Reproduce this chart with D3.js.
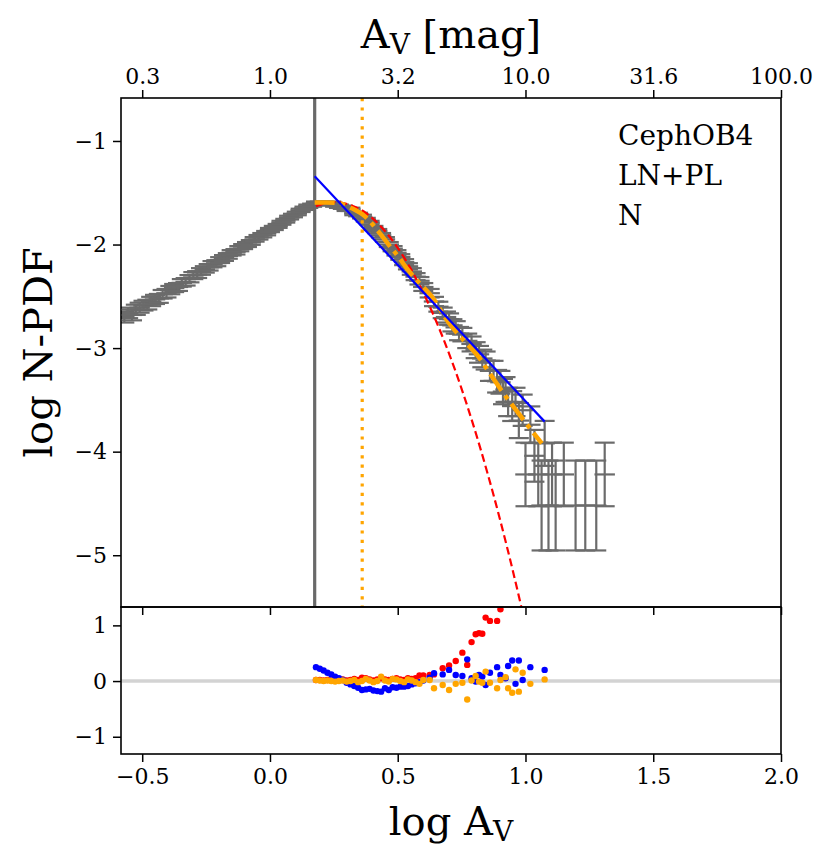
<!DOCTYPE html>
<html>
<head>
<meta charset="utf-8">
<script src="https://cdn.jsdelivr.net/npm/d3@7"></script>
<style>
  body { margin: 0; background: #fff; }
  svg { display: block; }
  text { font-family: "DejaVu Serif", serif; }
</style>
</head>
<body>
<svg id="chart" width="830" height="864"></svg>
<script>
// binned N-PDF (log A_V, log N-PDF, error in dex)
const pdfX = [
  -0.57, -0.555, -0.54, -0.525, -0.51, -0.495, -0.48, -0.465, -0.45, -0.435,
  -0.42, -0.405, -0.39, -0.375, -0.36, -0.345, -0.33, -0.315, -0.30, -0.285,
  -0.27, -0.255, -0.24, -0.225, -0.21, -0.195, -0.18, -0.165, -0.15, -0.135,
  -0.12, -0.105, -0.09, -0.075, -0.06, -0.045, -0.03, -0.015, 0.00, 0.015,
  0.03, 0.045, 0.06, 0.075, 0.09, 0.105, 0.12, 0.135, 0.15, 0.165,
  0.18, 0.195, 0.21, 0.225, 0.24, 0.255, 0.27, 0.285, 0.30, 0.315,
  0.33, 0.345, 0.36, 0.375, 0.39, 0.405, 0.42, 0.435, 0.45, 0.465,
  0.48, 0.495, 0.51, 0.525, 0.54, 0.555, 0.57, 0.585, 0.60,
  0.625, 0.642, 0.659, 0.676, 0.689, 0.701, 0.714, 0.727, 0.74, 0.753,
  0.772, 0.789, 0.805, 0.818, 0.831, 0.844, 0.861, 0.875, 0.889, 0.902,
  0.912, 0.922, 0.932, 0.948, 0.961, 0.974, 0.989, 1.00, 1.019, 1.035,
  1.05, 1.063, 1.075, 1.09, 1.104, 1.118, 1.15, 1.196, 1.234, 1.277, 1.31
];
const pdfY = [
  -2.70, -2.66, -2.68, -2.63, -2.61, -2.59, -2.58, -2.55, -2.53, -2.52,
  -2.48, -2.47, -2.44, -2.42, -2.41, -2.37, -2.36, -2.33, -2.30, -2.29,
  -2.26, -2.24, -2.22, -2.19, -2.18, -2.15, -2.13, -2.11, -2.08, -2.07,
  -2.04, -2.02, -2.00, -1.98, -1.95, -1.93, -1.91, -1.89, -1.86, -1.84,
  -1.82, -1.79, -1.77, -1.74, -1.72, -1.70, -1.67, -1.65, -1.63, -1.62,
  -1.60, -1.60, -1.60, -1.61, -1.60, -1.62, -1.63, -1.64, -1.66, -1.66,
  -1.70, -1.71, -1.73, -1.76, -1.79, -1.84, -1.87, -1.91, -1.95, -2.00,
  -2.04, -2.08, -2.12, -2.17, -2.21, -2.26, -2.31, -2.35, -2.41,
  -2.47, -2.55, -2.60, -2.66, -2.70, -2.72, -2.78, -2.80, -2.86, -2.87,
  -2.93, -2.96, -3.02, -3.06, -3.10, -3.12, -3.22, -3.22, -3.32, -3.33,
  -3.42, -3.40, -3.52, -3.56, -3.52, -3.70, -3.60, -4.22, -3.74, -4.04,
  -4.22, -4.52, -3.92, -4.52, -4.22, -4.52, -4.22, -4.52, -4.52, -4.52, -4.22
];
const pdfErr = [
  0.053, 0.051, 0.052, 0.049, 0.048, 0.047, 0.047, 0.045, 0.044, 0.043,
  0.041, 0.041, 0.040, 0.039, 0.038, 0.036, 0.036, 0.035, 0.034, 0.033,
  0.032, 0.031, 0.031, 0.030, 0.029, 0.028, 0.028, 0.027, 0.026, 0.026,
  0.025, 0.024, 0.024, 0.023, 0.022, 0.022, 0.021, 0.021, 0.020, 0.020,
  0.019, 0.019, 0.018, 0.018, 0.017, 0.017, 0.016, 0.016, 0.016, 0.015,
  0.015, 0.015, 0.015, 0.015, 0.015, 0.015, 0.016, 0.016, 0.016, 0.016,
  0.017, 0.017, 0.018, 0.018, 0.019, 0.020, 0.020, 0.021, 0.022, 0.024,
  0.025, 0.026, 0.027, 0.029, 0.030, 0.032, 0.034, 0.036, 0.038,
  0.041, 0.045, 0.048, 0.051, 0.053, 0.055, 0.059, 0.060, 0.064, 0.065,
  0.070, 0.072, 0.077, 0.081, 0.085, 0.087, 0.097, 0.097, 0.109, 0.110,
  0.122, 0.120, 0.137, 0.144, 0.137, 0.169, 0.151, 0.307, 0.177, 0.250,
  0.307, 0.434, 0.217, 0.434, 0.307, 0.434, 0.307, 0.434, 0.434, 0.434, 0.307
];
const binHalf = 0.04;

// model curves
const lnX = [0.18, 0.25, 0.35, 0.45, 0.55, 0.65, 0.75, 0.85, 0.95, 1.00];
const lnY = [-1.631, -1.590, -1.656, -1.870, -2.230, -2.738, -3.393, -4.196, -5.145, -5.675];
const plX = [0.175, 1.075];
const plY = [-1.34, -3.71];
const lnplX = [0.175, 0.22, 0.27, 0.32, 0.373, 0.42, 0.464, 0.50, 0.542, 0.58,
  0.633, 0.698, 0.76, 0.815, 0.87, 0.912, 0.97, 1.035, 1.064];
const lnplY = [-1.595, -1.595, -1.60, -1.65, -1.73, -1.86, -2.00, -2.11, -2.25, -2.36,
  -2.50, -2.75, -2.93, -3.08, -3.28, -3.43, -3.62, -3.83, -3.92];
const completeness = 0.175;
const transition = 0.361;

// residuals
const resX = [
  0.18, 0.195, 0.21, 0.225, 0.24, 0.255, 0.27, 0.285, 0.30, 0.315,
  0.33, 0.345, 0.36, 0.375, 0.39, 0.405, 0.42, 0.435, 0.45, 0.465,
  0.48, 0.495, 0.51, 0.525, 0.54, 0.555, 0.57, 0.585, 0.60,
  0.625, 0.642, 0.676, 0.701, 0.727, 0.753, 0.772, 0.789, 0.805, 0.818,
  0.831, 0.844, 0.861, 0.889, 0.902, 0.922, 0.932, 0.948, 0.961, 0.974,
  0.989, 1.019, 1.075
];
const resLN = [
  0.02, 0.02, 0.01, 0.02, 0.01, 0.01, 0.02, 0.03, 0.01, 0.02,
  0.04, 0.02, 0.06, 0.05, 0.03, 0.01, 0.03, 0.05, 0.03, 0.02,
  0.04, 0.05, 0.03, 0.02, 0.05, 0.04, 0.05, 0.10, 0.10,
  0.11, 0.12, 0.23, 0.28, 0.36, 0.51, 0.29, 0.70, 0.84, 0.86,
  0.85, 1.14, 1.08, 1.08, 1.29, null, null, null, null, null,
  null, null, null
];
const resPL = [
  0.25, 0.22, 0.19, 0.15, 0.12, 0.08, 0.05, 0.02, -0.03, -0.06,
  -0.09, -0.12, -0.16, -0.15, -0.14, -0.17, -0.18, -0.19, -0.13, -0.16,
  -0.11, -0.12, -0.10, -0.10, -0.09, -0.06, -0.04, -0.02, 0.01,
  0.06, 0.14, 0.12, 0.20, 0.11, 0.09, 0.39, 0.05, -0.01, 0.11,
  0.08, -0.07, 0.15, 0.25, 0.11, 0.05, 0.27, 0.37, -0.05, 0.37,
  0.02, 0.25, 0.20
];
const resLNPL = [
  0.02, 0.01, 0.00, 0.01, 0.00, -0.01, 0.00, 0.01, -0.01, 0.00,
  0.02, -0.02, 0.00, 0.04, 0.01, -0.02, 0.00, 0.08, 0.01, -0.01,
  0.04, 0.03, 0.00, -0.02, 0.03, 0.01, -0.02, -0.05, 0.02,
  0.02, -0.13, -0.07, -0.16, -0.05, -0.03, -0.33, 0.01, 0.09, -0.01,
  -0.03, 0.17, -0.03, -0.13, 0.02, 0.07, -0.13, -0.21, 0.21, -0.19,
  0.15, -0.05, 0.03
];

// axes ticks
const xTicks = [-0.5, 0.0, 0.5, 1.0, 1.5, 2.0];
const xTickLabels = ["\u22120.5", "0.0", "0.5", "1.0", "1.5", "2.0"];
const topTickLabels = ["0.3", "1.0", "3.2", "10.0", "31.6", "100.0"];
const yTicks = [-1, -2, -3, -4, -5];
const yTickLabels = ["\u22121", "\u22122", "\u22123", "\u22124", "\u22125"];
const resTicks = [1, 0, -1];
const resTickLabels = ["1", "0", "\u22121"];
const notes = ["CephOB4", "LN+PL", "N"];

const svg = d3.select("#chart");
const L = 121, R = 781, T = 98, MB = 607, RB = 754;

const x = d3.scaleLinear().domain([-0.583, 2.0]).range([L, R]);
const y = d3.scaleLinear().domain([-5.5, -0.585]).range([MB, T]);
const yr = d3.scaleLinear().domain([-1.31, 1.33]).range([RB, MB]);

svg.append("rect").attr("width", 830).attr("height", 864).attr("fill", "#fff");

const defs = svg.append("defs");
defs.append("clipPath").attr("id", "clipMain")
    .append("rect").attr("x", L).attr("y", T).attr("width", R - L).attr("height", MB - T);
defs.append("clipPath").attr("id", "clipRes")
    .append("rect").attr("x", L).attr("y", MB).attr("width", R - L).attr("height", RB - MB);

// MAIN PANEL
const main = svg.append("g").attr("clip-path", "url(#clipMain)");
const pts = pdfX.map((d, i) => ({x: d, y: pdfY[i], e: pdfErr[i]}));
const grey = "#6b6b6b", cap = 10;
const eb = main.append("g").attr("stroke", grey).attr("stroke-width", 2.2).attr("fill", "none");
pts.forEach(p => {
    const cx = x(p.x), y0 = y(p.y), y1 = y(p.y + p.e), y2 = y(p.y - p.e);
    eb.append("line").attr("x1", x(p.x - binHalf)).attr("x2", x(p.x + binHalf)).attr("y1", y0).attr("y2", y0);
    eb.append("line").attr("x1", cx).attr("x2", cx).attr("y1", y1).attr("y2", y2);
    eb.append("line").attr("x1", cx - cap).attr("x2", cx + cap).attr("y1", y1).attr("y2", y1);
    eb.append("line").attr("x1", cx - cap).attr("x2", cx + cap).attr("y1", y2).attr("y2", y2);
});

main.append("line")
    .attr("x1", x(completeness)).attr("x2", x(completeness)).attr("y1", T).attr("y2", MB)
    .attr("stroke", "#696969").attr("stroke-width", 3.2);
main.append("line")
    .attr("x1", x(transition)).attr("x2", x(transition)).attr("y1", T).attr("y2", MB)
    .attr("stroke", "orange").attr("stroke-width", 3.2).attr("stroke-dasharray", "3.2,6.2");

const line = d3.line().x(d => x(d[0])).y(d => y(d[1])).curve(d3.curveMonotoneX);
main.append("path").attr("d", line(d3.zip(lnX, lnY)))
    .attr("fill", "none").attr("stroke", "red").attr("stroke-width", 2.2)
    .attr("stroke-dasharray", "8,4");
main.append("path").attr("d", line(d3.zip(lnplX, lnplY)))
    .attr("fill", "none").attr("stroke", "orange").attr("stroke-width", 4.5)
    .attr("stroke-dasharray", "20,6,4.5,6");
main.append("path").attr("d", d3.line().x(d => x(d[0])).y(d => y(d[1]))(d3.zip(plX, plY)))
    .attr("fill", "none").attr("stroke", "blue").attr("stroke-width", 2.2);

svg.append("g").selectAll("text").data(notes).join("text")
    .attr("x", 618).attr("y", (d, i) => 145 + i * 40)
    .attr("font-size", 28).attr("fill", "#000").text(d => d);

// RESIDUAL PANEL
const res = svg.append("g").attr("clip-path", "url(#clipRes)");
res.append("line").attr("x1", L).attr("x2", R).attr("y1", yr(0)).attr("y2", yr(0))
    .attr("stroke", "lightgray").attr("stroke-width", 3.5);
[[resLN, "red"], [resPL, "blue"], [resLNPL, "orange"]].forEach(([vals, col]) => {
    res.append("g").selectAll("circle")
        .data(resX.map((d, i) => [d, vals[i]]).filter(d => d[1] !== null))
        .join("circle")
        .attr("cx", d => x(d[0])).attr("cy", d => yr(d[1])).attr("r", 3.2)
        .attr("fill", col);
});

// AXES
function styleAxis(g) {
    g.select(".domain").remove();
    g.selectAll(".tick line").attr("stroke", "#000").attr("stroke-width", 1.5);
    g.selectAll(".tick text").attr("font-family", "DejaVu Serif").attr("font-size", 22).attr("fill", "#000");
}
svg.append("g").attr("transform", `translate(0,${T})`)
    .call(d3.axisTop(x).tickValues(xTicks).tickFormat((d, i) => topTickLabels[i]).tickSize(8).tickPadding(6))
    .call(styleAxis);
svg.append("g").attr("transform", `translate(0,${MB})`)
    .call(d3.axisBottom(x).tickValues(xTicks).tickFormat("").tickSize(8))
    .call(styleAxis);
svg.append("g").attr("transform", `translate(${L},0)`)
    .call(d3.axisLeft(y).tickValues(yTicks).tickFormat((d, i) => yTickLabels[i]).tickSize(8).tickPadding(6))
    .call(styleAxis);
svg.append("g").attr("transform", `translate(${L},0)`)
    .call(d3.axisLeft(yr).tickValues(resTicks).tickFormat((d, i) => resTickLabels[i]).tickSize(8).tickPadding(6))
    .call(styleAxis);
svg.append("g").attr("transform", `translate(0,${RB})`)
    .call(d3.axisBottom(x).tickValues(xTicks).tickFormat((d, i) => xTickLabels[i]).tickSize(8).tickPadding(6))
    .call(styleAxis);

// spines
svg.append("rect").attr("x", L).attr("y", T).attr("width", R - L).attr("height", MB - T)
    .attr("fill", "none").attr("stroke", "#000").attr("stroke-width", 1.6);
svg.append("rect").attr("x", L).attr("y", MB).attr("width", R - L).attr("height", RB - MB)
    .attr("fill", "none").attr("stroke", "#000").attr("stroke-width", 1.6);

// axis labels
const topLab = svg.append("text").attr("x", (L + R) / 2).attr("y", 48)
    .attr("text-anchor", "middle").attr("font-size", 40);
topLab.append("tspan").text("A");
topLab.append("tspan").attr("font-size", 28).attr("dy", 6).text("V");
topLab.append("tspan").attr("dy", -6).text(" [mag]");

const botLab = svg.append("text").attr("x", (L + R) / 2).attr("y", 835)
    .attr("text-anchor", "middle").attr("font-size", 40);
botLab.append("tspan").text("log A");
botLab.append("tspan").attr("font-size", 28).attr("dy", 6).text("V");

svg.append("text").attr("transform", `translate(52,${(T + MB) / 2}) rotate(-90)`)
    .attr("text-anchor", "middle").attr("font-size", 40).text("log N-PDF");
</script>
</body>
</html>
